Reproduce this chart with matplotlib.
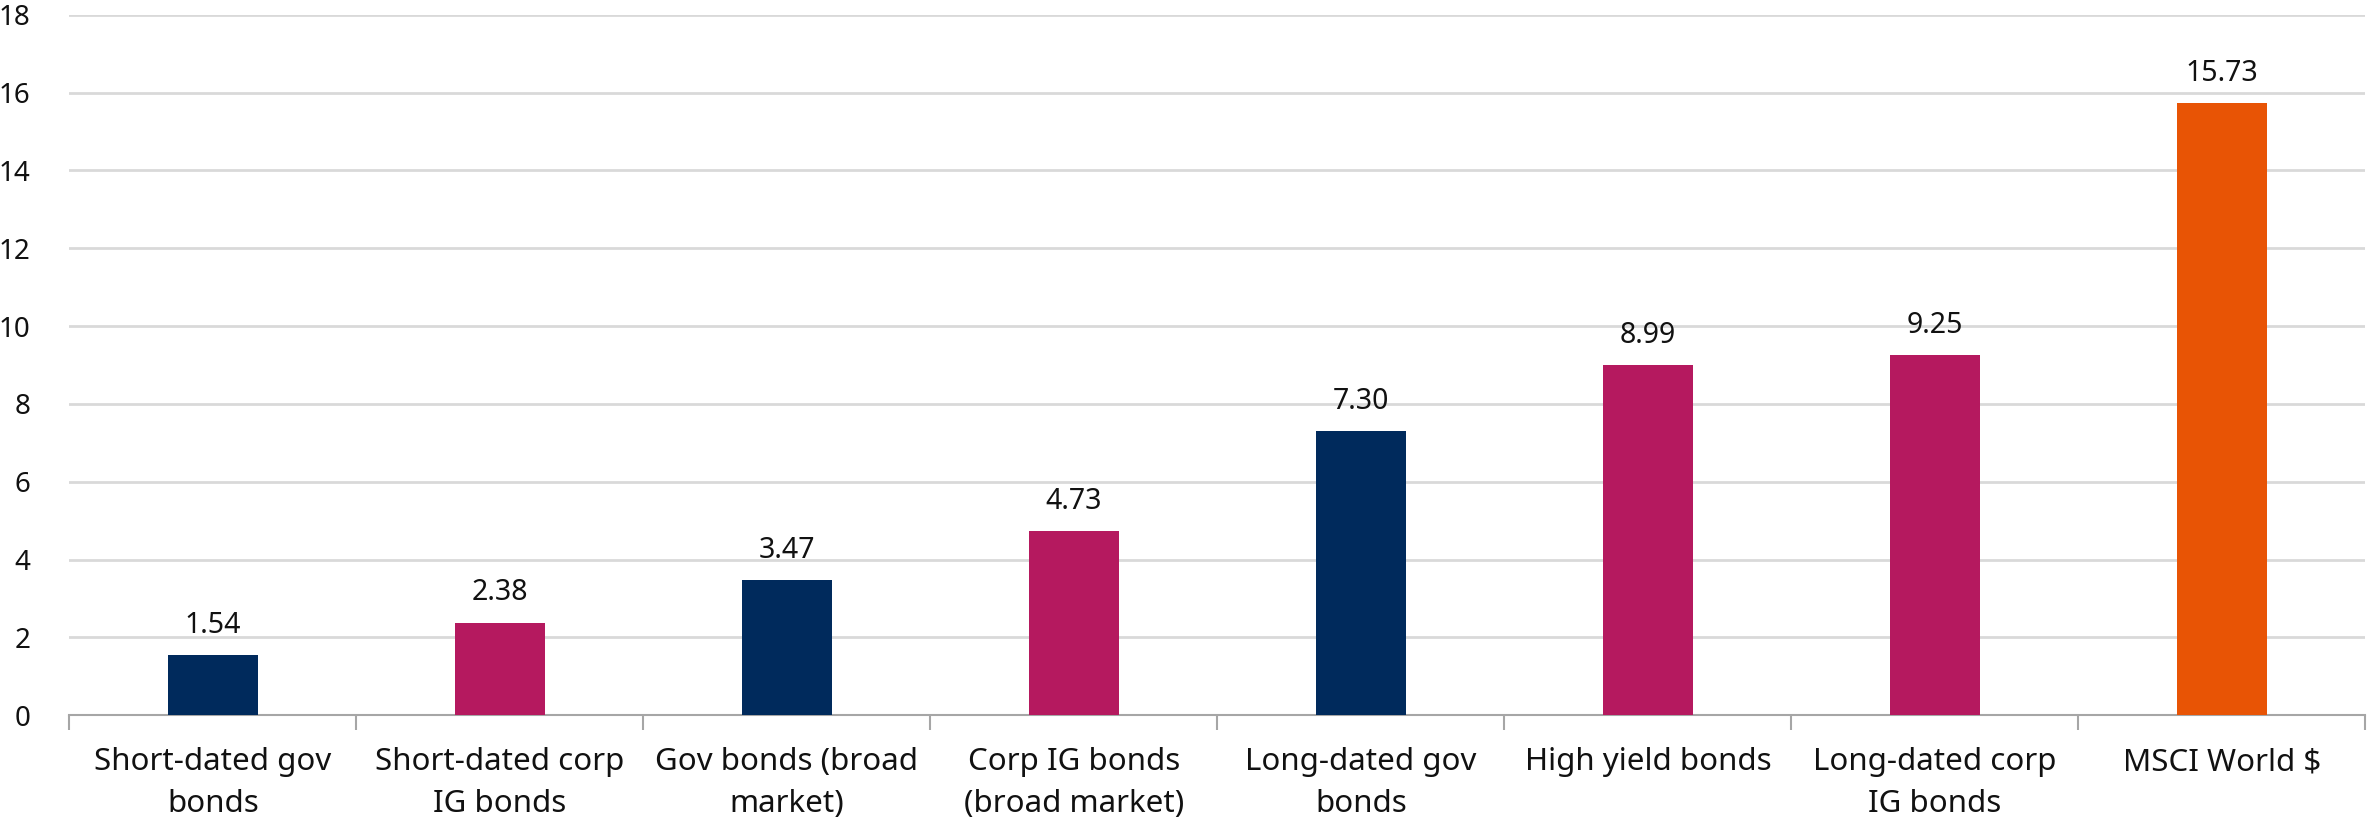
import matplotlib
matplotlib.use("Agg")
import matplotlib.pyplot as plt

categories = ["Short-dated gov\nbonds", "Short-dated corp\nIG bonds", "Gov bonds (broad\nmarket)",
              "Corp IG bonds\n(broad market)", "Long-dated gov\nbonds", "High yield bonds",
              "Long-dated corp\nIG bonds", "MSCI World $"]
values = [1.54, 2.38, 3.47, 4.73, 7.30, 8.99, 9.25, 15.73]
groups = ["gov", "corp", "gov", "corp", "gov", "corp", "corp", "equity"]
group_colors = {"gov": "#002A5C", "corp": "#B5195F", "equity": "#E85405"}
yticks = [0, 2, 4, 6, 8, 10, 12, 14, 16, 18]

plt.rcParams['font.family'] = ['Noto Sans', 'DejaVu Sans']

fig = plt.figure(figsize=(23.7, 8.22), dpi=100)
ax = fig.add_axes([0.0293, 0.130, 0.9687, 0.852])

x = list(range(len(categories)))
colors = [group_colors[g] for g in groups]
ax.bar(x, values, width=0.315, color=colors, zorder=3)

for xi, v in zip(x, values):
    ax.annotate(f"{v:.2f}", (xi, v), xytext=(0, 11), textcoords="offset points",
                ha="center", va="bottom", fontsize=20.5, color="#111111")

ax.set_xlim(-0.5, len(categories) - 0.5)
ax.set_ylim(0, 18)
ax.set_yticks(yticks)
ax.set_yticklabels([str(t) for t in yticks], fontsize=20, color="#111111")
ax.grid(axis="y", color="#D9D9D9", linewidth=2, zorder=0)
ax.set_axisbelow(True)

ax.set_xticks(x)
ax.set_xticklabels(categories, fontsize=22.5, color="#111111", linespacing=1.52)
ax.tick_params(axis="x", length=0, pad=23)
ax.tick_params(axis="y", length=0, pad=28)
# boundary tick marks
ax.set_xticks([i - 0.5 for i in range(len(categories) + 1)], minor=True)
ax.tick_params(axis="x", which="minor", length=11, width=1.5, color="#A6A6A6")

for s in ["top", "right", "left"]:
    ax.spines[s].set_visible(False)
ax.spines["bottom"].set_color("#A6A6A6")
ax.spines["bottom"].set_linewidth(1.5)

fig.savefig("out.png", dpi=100, facecolor="white")
